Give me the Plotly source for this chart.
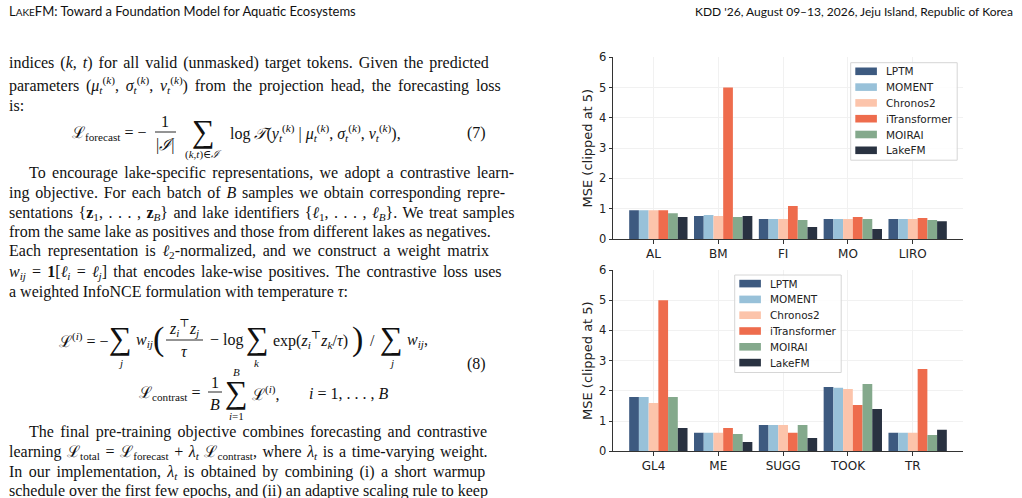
import plotly.graph_objects as go

W, H = 1022, 498

# ---------------- data ----------------
models = ["LPTM", "MOMENT", "Chronos2", "iTransformer", "MOIRAI", "LakeFM"]
colors = ["#3d5a80", "#98c1d9", "#fcc4ab", "#ee6c4d", "#84a98c", "#293241"]

lakes_top = ["AL", "BM", "FI", "MO", "LIRO"]
lptm_top = [0.95, 0.76, 0.66, 0.66, 0.66]
moment_top = [0.95, 0.79, 0.66, 0.66, 0.66]
chronos_top = [0.95, 0.76, 0.66, 0.66, 0.66]
itrans_top = [0.95, 5.0, 1.09, 0.73, 0.69]
moirai_top = [0.85, 0.73, 0.63, 0.66, 0.63]
lakefm_top = [0.73, 0.76, 0.40, 0.33, 0.59]

lakes_bot = ["GL4", "ME", "SUGG", "TOOK", "TR"]
lptm_bot = [1.80, 0.61, 0.87, 2.13, 0.61]
moment_bot = [1.80, 0.61, 0.87, 2.10, 0.61]
chronos_bot = [1.60, 0.61, 0.87, 2.06, 0.61]
itrans_bot = [5.0, 0.77, 0.61, 1.53, 2.72]
moirai_bot = [1.80, 0.57, 0.87, 2.23, 0.54]
lakefm_bot = [0.77, 0.31, 0.44, 1.40, 0.71]

y_ticks = [0, 1, 2, 3, 4, 5, 6]
y_title = "MSE (clipped at 5)"

top_series = [lptm_top, moment_top, chronos_top, itrans_top, moirai_top, lakefm_top]
bot_series = [lptm_bot, moment_bot, chronos_bot, itrans_bot, moirai_bot, lakefm_bot]

# ---------------- helpers ----------------
def PX(x):
    return x / W


def PY(y):
    return 1 - y / H


BARGAP = 0.1
bar_w = (1 - BARGAP) / len(models)
MARGIN = 0.245  # matplotlib-like 5% axis margin

fig = go.Figure()

panels = [("", lakes_top, top_series), ("2", lakes_bot, bot_series)]
for suf, cats, series in panels:
    xs = list(range(len(cats)))
    for name, col, vals in zip(models, colors, series):
        fig.add_trace(go.Bar(
            x=xs, y=vals, name=name, showlegend=False,
            marker=dict(color=col, line=dict(width=0)),
            xaxis="x" + suf, yaxis="y" + suf, offsetgroup=name,
        ))

CHART_FONT = "DejaVu Sans"


def xaxis_cfg(cats, ydom_anchor):
    xs = list(range(len(cats)))
    return dict(
        domain=[PX(613.3), PX(962.7)], anchor=ydom_anchor,
        range=[-0.5 + BARGAP / 2 - MARGIN, len(cats) - 0.5 - BARGAP / 2 + MARGIN],
        tickmode="array", tickvals=[x - bar_w / 2 for x in xs], ticktext=cats,
        showline=True, linecolor="#333333", linewidth=1.1,
        ticks="outside", ticklen=3.5, tickcolor="#333333", tickwidth=1,
        showgrid=True, gridcolor="#f1f1f1", gridwidth=1, zeroline=False,
        tickfont=dict(family=CHART_FONT, size=12, color="#222222"),
        automargin=False, fixedrange=True,
    )


def yaxis_cfg(dom, xanchor):
    return dict(
        domain=dom, anchor=xanchor, range=[0, 6],
        tickmode="array", tickvals=y_ticks,
        showline=True, linecolor="#333333", linewidth=1.1,
        ticks="outside", ticklen=3.5, tickcolor="#333333", tickwidth=1,
        showgrid=True, gridcolor="#f1f1f1", gridwidth=1, zeroline=False,
        tickfont=dict(family=CHART_FONT, size=11.5, color="#222222"),
        title=dict(text=y_title, font=dict(family=CHART_FONT, size=13, color="#222222"), standoff=3),
        automargin=False, fixedrange=True,
    )


fig.update_layout(
    width=W, height=H, margin=dict(l=0, r=0, t=0, b=0),
    template="none", paper_bgcolor="white", plot_bgcolor="white",
    barmode="group", bargap=BARGAP, bargroupgap=0,
    showlegend=False,
    xaxis=xaxis_cfg(lakes_top, "y"),
    yaxis=yaxis_cfg([PY(239), PY(57.3)], "x"),
    xaxis2=xaxis_cfg(lakes_bot, "y2"),
    yaxis2=yaxis_cfg([PY(451.3), PY(270)], "x2"),
)

shapes = []
annos = []


def legend(box_l, box_t):
    w, h = 106.5, 97.5
    shapes.append(dict(type="rect", xref="paper", yref="paper",
                       x0=PX(box_l), x1=PX(box_l + w), y0=PY(box_t + h), y1=PY(box_t),
                       line=dict(color="#d6d6d6", width=1), fillcolor="rgba(255,255,255,0.85)", layer="above"))
    for i, (name, col) in enumerate(zip(models, colors)):
        yc = box_t + 8.6 + i * 15.8
        shapes.append(dict(type="rect", xref="paper", yref="paper",
                           x0=PX(box_l + 4.6), x1=PX(box_l + 26.2), y0=PY(yc + 3.8), y1=PY(yc - 3.8),
                           line=dict(width=0), fillcolor=col, layer="above"))
        annos.append(dict(x=PX(box_l + 33.5), y=PY(yc), xref="paper", yref="paper",
                          text=name, showarrow=False, xanchor="left", yanchor="middle",
                          font=dict(family=CHART_FONT, size=10.5, color="#222222")))


legend(850.7, 62.7)
legend(734.7, 275.0)

# ---------------- page text ----------------
SERIF = "Liberation Serif, DejaVu Serif, serif"
SANS = "Lato, Open Sans, sans-serif"


def txt(x, y, s, size=16, anchor="left", family=SERIF, color="#111111", ws=0):
    if ws:
        s = "<span style='word-spacing:%.2fpx'>%s</span>" % (ws, s)
    annos.append(dict(x=PX(x), y=PY(y), xref="paper", yref="paper", text=s,
                      showarrow=False, xanchor=anchor, yanchor="middle",
                      font=dict(family=family, size=size, color=color)))


def hline(x0, x1, y, w=0.9):
    shapes.append(dict(type="line", xref="paper", yref="paper",
                       x0=PX(x0), x1=PX(x1), y0=PY(y), y1=PY(y),
                       line=dict(color="#111111", width=w)))


# header
txt(7, 11, "L<span style='font-size:10px'>AKE</span>FM: Toward a Foundation Model for Aquatic Ecosystems",
    size=13, family=SANS)
txt(1015, 11, "KDD '26, August 09–13, 2026, Jeju Island, Republic of Korea", size=12, family=SANS, anchor="right")

sup_k = "<sup>(<i>k</i>)</sup>"

lines = [
    (7, 63, 2.0, "indices (<i>k</i>, <i>t</i>) for all valid (unmasked) target tokens. Given the predicted"),
    (7, 85, 2.8, "parameters (<i>μ</i><sub><i>t</i></sub>" + sup_k + ", <i>σ</i><sub><i>t</i></sub>" + sup_k
     + ", <i>ν</i><sub><i>t</i></sub>" + sup_k + ") from the projection head, the forecasting loss"),
    (7, 106, 0, "is:"),
    (27, 173, 2.4, "To encourage lake-specific representations, we adopt a contrastive learn-"),
    (7, 193, 1.8, "ing objective. For each batch of <i>B</i> samples we obtain corresponding repre-"),
    (7, 213, 1.5, "sentations {<b>z</b><sub>1</sub>, . . . , <b>z</b><sub><i>B</i></sub>} and lake identifiers "
                  "{<i>ℓ</i><sub>1</sub>, . . . , <i>ℓ</i><sub><i>B</i></sub>}. We treat samples"),
    (7, 232, 0, "from the same lake as positives and those from different lakes as negatives."),
    (7, 252, 2.7, "Each representation is <i>ℓ</i><sub>2</sub>-normalized, and we construct a weight matrix"),
    (7, 272, 2.2, "<i>w</i><sub><i>ij</i></sub> = <b>1</b>[<i>ℓ</i><sub><i>i</i></sub> = <i>ℓ</i><sub><i>j</i></sub>] "
                  "that encodes lake-wise positives. The contrastive loss uses"),
    (7, 292, 0, "a weighted InfoNCE formulation with temperature <i>τ</i>:"),
    (27, 432, 2.3, "The final pre-training objective combines forecasting and contrastive"),
    (7, 452, 1.6, "learning ℒ<sub>total</sub> = ℒ<sub>forecast</sub> + <i>λ</i><sub><i>t</i></sub> ℒ<sub>contrast</sub>, "
                  "where <i>λ</i><sub><i>t</i></sub> is a time-varying weight."),
    (7, 472, 2.4, "In our implementation, <i>λ</i><sub><i>t</i></sub> is obtained by combining (i) a short warmup"),
    (7, 491, 0, "schedule over the first few epochs, and (ii) an adaptive scaling rule to keep"),
]
for x, y, ws, s in lines:
    txt(x, y, s, ws=ws)

SUM = 32
# equation (7)
txt(70, 133, "ℒ<sub>forecast</sub> = −")
txt(165, 121, "1", anchor="center")
hline(155, 176, 132)
txt(165, 145, "|<i>ℐ</i>|", anchor="center")
txt(203, 131, "∑", size=SUM, anchor="center")
txt(203, 154, "(<i>k</i>,<i>t</i>)∈<i>ℐ</i>", size=11, anchor="center")
txt(228, 133, "log <i>𝒯</i>(<i>y</i><sub><i>t</i></sub>" + sup_k + " | <i>μ</i><sub><i>t</i></sub>" + sup_k
    + ", <i>σ</i><sub><i>t</i></sub>" + sup_k + ", <i>ν</i><sub><i>t</i></sub>" + sup_k + "),")
txt(488, 133, "(7)", anchor="right")

# equation (8)
txt(57, 340, "ℒ<sup>(<i>i</i>)</sup> = −")
txt(120, 338, "∑", size=SUM, anchor="center")
txt(120, 363, "<i>j</i>", size=11, anchor="center")
txt(134, 340, "<i>w</i><sub><i>ij</i></sub>")
txt(158, 339, "(", size=34, anchor="center")
txt(184, 328, "<i>z</i><sub><i>i</i></sub><sup>⊤</sup><i>z</i><sub><i>j</i></sub>", anchor="center")
hline(166, 203, 340)
txt(184, 351, "<i>τ</i>", anchor="center")
txt(208, 340, "− log")
txt(257, 338, "∑", size=SUM, anchor="center")
txt(257, 363, "<i>k</i>", size=11, anchor="center")
txt(271, 340, "exp(<i>z</i><sub><i>i</i></sub><sup>⊤</sup><i>z</i><sub><i>k</i></sub>/<i>τ</i>)")
txt(357, 339, ")", size=34, anchor="center")
txt(372, 340, "/", anchor="center")
txt(391, 338, "∑", size=SUM, anchor="center")
txt(391, 363, "<i>j</i>", size=11, anchor="center")
txt(405, 340, "<i>w</i><sub><i>ij</i></sub>,")
txt(488, 364, "(8)", anchor="right")

txt(137, 393, "ℒ<sub>contrast</sub> =")
txt(215, 382, "1", anchor="center")
hline(208, 222, 392)
txt(215, 404, "<i>B</i>", anchor="center")
txt(236, 372, "<i>B</i>", size=11, anchor="center")
txt(236, 392, "∑", size=SUM, anchor="center")
txt(236, 416, "<i>i</i>=1", size=11, anchor="center")
txt(250, 393, "ℒ<sup>(<i>i</i>)</sup>,")
txt(307, 393, "<i>i</i> = 1, . . . , <i>B</i>")

fig.update_layout(shapes=shapes, annotations=annos)

fig.write_html("out.html")
